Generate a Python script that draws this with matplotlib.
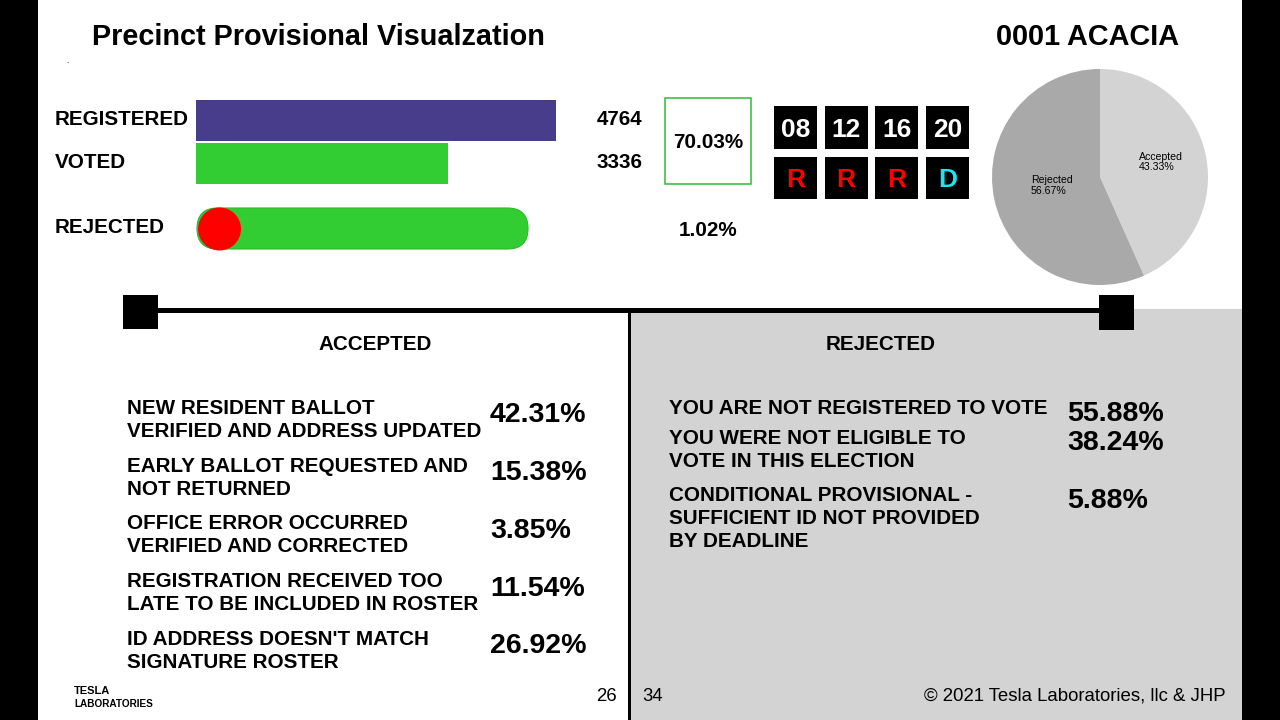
import matplotlib
matplotlib.use("Agg")
import matplotlib.pyplot as plt
from matplotlib.patches import Rectangle, FancyBboxPatch, Circle

plt.rcParams['font.family'] = ['Liberation Sans', 'DejaVu Sans']

# ---------------- data ----------------
title = "Precinct Provisional Visualzation"
precinct = "0001 ACACIA"
bar_labels = ["REGISTERED", "VOTED"]
bar_values = [4764, 3336]
turnout_pct = "70.03%"
rejected_label = "REJECTED"
rejected_pct = "1.02%"
years = ["08", "12", "16", "20"]
winners = ["R", "R", "R", "D"]
pie_labels = ["Accepted", "Rejected"]
pie_values = [43.33, 56.67]
accepted_reasons = [
    ["NEW RESIDENT BALLOT", "VERIFIED AND ADDRESS UPDATED"],
    ["EARLY BALLOT REQUESTED AND", "NOT RETURNED"],
    ["OFFICE ERROR OCCURRED", "VERIFIED AND CORRECTED"],
    ["REGISTRATION RECEIVED TOO", "LATE TO BE INCLUDED IN ROSTER"],
    ["ID ADDRESS DOESN'T MATCH", "SIGNATURE ROSTER"],
]
accepted_pcts = ["42.31%", "15.38%", "3.85%", "11.54%", "26.92%"]
rejected_reasons = [
    ["YOU ARE NOT REGISTERED TO VOTE"],
    ["YOU WERE NOT ELIGIBLE TO", "VOTE IN THIS ELECTION"],
    ["CONDITIONAL PROVISIONAL -", "SUFFICIENT ID NOT PROVIDED", "BY DEADLINE"],
]
rejected_pcts = ["55.88%", "38.24%", "5.88%"]
page_left = "26"
page_right = "34"
copyright_text = "\u00a9 2021 Tesla Laboratories, llc & JHP"

# ---------------- figure ----------------
W, H = 1280, 720
DPI = 100
fig = plt.figure(figsize=(W / DPI, H / DPI), dpi=DPI)
fig.patch.set_facecolor("white")
ax = fig.add_axes([0, 0, 1, 1])
ax.set_xlim(0, W)
ax.set_ylim(H, 0)
ax.axis("off")

PX = DPI / 72.0
LAB = 14.9


def T(x, yc, s, size, **kw):
    """Place text so that the cap-height centre sits at yc (pixels)."""
    ax.text(x, yc + 0.358 * size * PX, s, fontsize=size, va="baseline", **kw)


GRAY = "#d3d3d3"
GREEN = "#32cd32"
BLUE = "#483d8b"

# background panels / borders
ax.add_patch(Rectangle((630, 309), 612, 411, color=GRAY, lw=0, zorder=0))
ax.add_patch(Rectangle((0, 0), 38, H, color="black", lw=0, zorder=5))
ax.add_patch(Rectangle((1242, 0), 38, H, color="black", lw=0, zorder=5))

# timeline line and squares
ax.add_patch(Rectangle((150, 308), 960, 5, color="black", lw=0, zorder=3))
ax.add_patch(Rectangle((123, 295), 35, 34, color="black", lw=0, zorder=3))
ax.add_patch(Rectangle((1099, 295), 35, 35, color="black", lw=0, zorder=3))
ax.add_patch(Rectangle((628, 313), 3, H - 313, color="black", lw=0, zorder=3))

# titles
T(92, 35, title, 20.8, weight="bold")
T(996, 35, precinct, 20.8, weight="bold")
T(66, 60, ".", 6)

# ---------------- registered / voted bars ----------------
axb = fig.add_axes([196 / W, (H - 185) / H, 360 / W, 86 / H])
axb.barh([1, 0], bar_values, height=0.96, color=[BLUE, GREEN], edgecolor="none")
axb.set_xlim(0, max(bar_values))
axb.set_ylim(-0.5, 1.5)
axb.axis("off")

label_y = [118, 161]
for lab, val, yy in zip(bar_labels, bar_values, label_y):
    T(55, yy, lab, LAB, weight="bold")
    T(597, yy, str(val), LAB, weight="bold")

# turnout box
ax.add_patch(Rectangle((665, 98), 86, 86, fill=False, edgecolor="#33bb33", lw=1.1))
T(708, 141, turnout_pct, LAB, weight="bold", ha="center")

# rejected pill
T(55, 226, rejected_label, LAB, weight="bold")
ax.add_patch(FancyBboxPatch((197, 208), 331, 41,
                            boxstyle="round,pad=0,rounding_size=20.5",
                            facecolor=GREEN, edgecolor="#2db82d", lw=0.8, zorder=2))
ax.add_patch(Circle((219.5, 229), 21.5, facecolor="#ff0000", edgecolor="none", zorder=3))
T(708, 229, rejected_pct, LAB, weight="bold", ha="center")

# ---------------- election years ----------------
party_colors = {"R": "#ff0000", "D": "#1fe3f0"}
for i, (yr, w) in enumerate(zip(years, winners)):
    x0 = 774 + i * 50.7
    ax.add_patch(Rectangle((x0, 106), 43, 43, color="black", lw=0))
    T(x0 + 21.5, 127.5, yr, 19, weight="bold", color="white", ha="center")
    ax.add_patch(Rectangle((x0, 157), 43, 42, color="black", lw=0))
    T(x0 + 21.5, 178, w, 19, weight="bold", color=party_colors[w], ha="center")

# ---------------- pie ----------------
axp = fig.add_axes([992 / W, (H - 285) / H, 216 / W, 216 / H])
axp.pie(pie_values, colors=["#d3d3d3", "#a9a9a9"], startangle=90,
        counterclock=False, radius=1, wedgeprops=dict(linewidth=0))
axp.set_xlim(-1, 1)
axp.set_ylim(-1, 1)
axp.axis("off")
pie_text_pos = [(0.36, 0.14), (-0.64, -0.08)]
for lab, val, (px, py) in zip(pie_labels, pie_values, pie_text_pos):
    axp.text(px, py, f"{lab}\n{val:.2f}%", fontsize=7.6, ha="left", va="center",
             linespacing=1.05)

# ---------------- accepted / rejected lists ----------------
T(375, 343, "ACCEPTED", LAB, weight="bold", ha="center")
T(881, 343, "REJECTED", LAB, weight="bold", ha="center")

acc_first = [407, 464.5, 522, 580, 638]
acc_pct_y = [412, 470, 527.5, 585.5, 642.5]
for lines, pct, y0, yp in zip(accepted_reasons, accepted_pcts, acc_first, acc_pct_y):
    for k, line in enumerate(lines):
        T(127, y0 + 23 * k, line, LAB, weight="bold")
    T(490, yp, pct, 20.5, weight="bold")

rej_first = [406.5, 436.5, 494]
rej_pct_y = [411, 440, 498]
for lines, pct, y0, yp in zip(rejected_reasons, rejected_pcts, rej_first, rej_pct_y):
    for k, line in enumerate(lines):
        T(669, y0 + 22.7 * k, line, LAB, weight="bold")
    T(1067, yp, pct, 20.5, weight="bold")

# ---------------- footer ----------------
T(617, 694, page_left, 13.4, ha="right")
T(642, 694, page_right, 13.4, ha="left")
T(1226, 694, copyright_text, 13.4, ha="right")
ax.text(74, 694, "TESLA", fontsize=8, weight="bold", va="baseline")
ax.text(74, 707, "LABORATORIES", fontsize=7.2, weight="bold", va="baseline")

fig.savefig("out.png", dpi=DPI, facecolor="white")
